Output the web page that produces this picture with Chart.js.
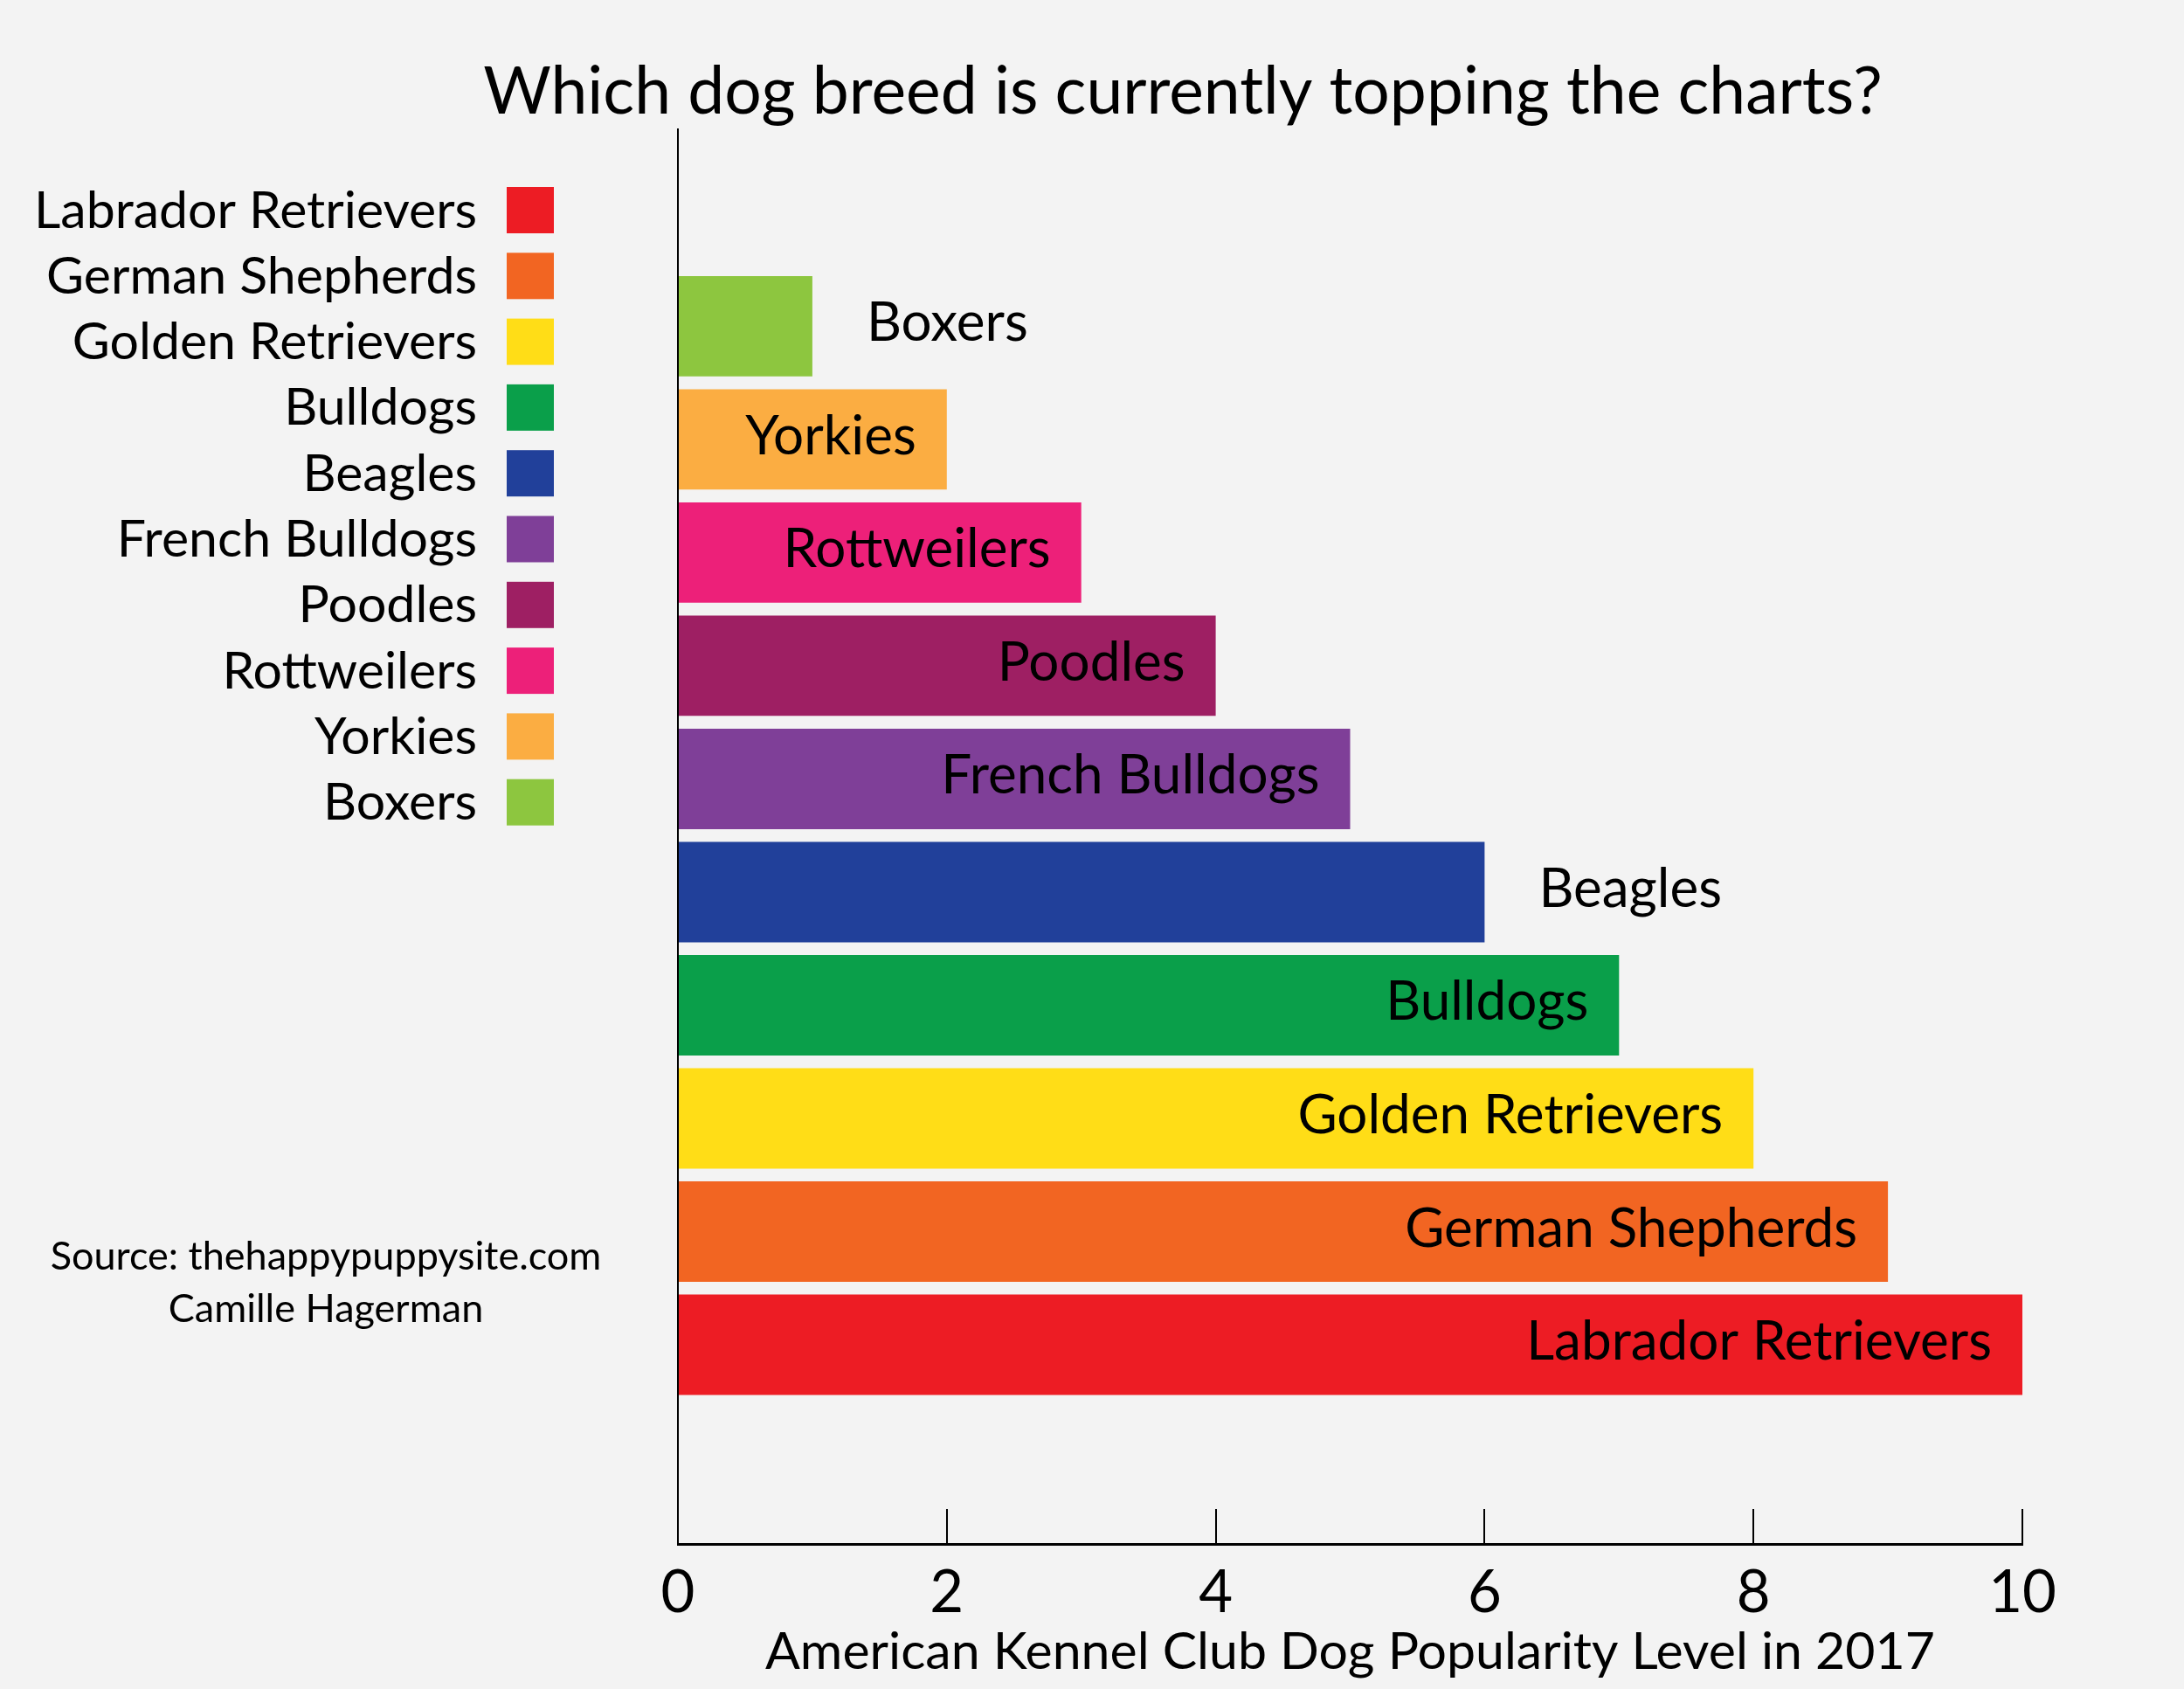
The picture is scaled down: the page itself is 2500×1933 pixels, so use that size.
<!DOCTYPE html>
<html>
<head>
<meta charset="utf-8">
<title>Dog breed popularity</title>
<script src="https://cdn.jsdelivr.net/npm/chart.js@4.4.1/dist/chart.umd.min.js"></script>
<style>
  html, body { margin: 0; padding: 0; background: #f3f3f3; }
  canvas { display: block; }
</style>
</head>
<body>
<canvas id="dogChart" width="2500" height="1933"></canvas>
<script>
// bars from top to bottom
const breeds = ['Boxers', 'Yorkies', 'Rottweilers', 'Poodles', 'French Bulldogs',
                'Beagles', 'Bulldogs', 'Golden Retrievers', 'German Shepherds', 'Labrador Retrievers'];
const levels = [1, 2, 3, 4, 5, 6, 7, 8, 9, 10];
const barColors = ['#8dc63f', '#fbad42', '#ed2079', '#9e1f63', '#7f3f98',
                   '#21409a', '#0a9f4a', '#ffdd17', '#f26522', '#ed1c24'];
const xTicks = [0, 2, 4, 6, 8, 10];
const outsideLabels = ['Boxers', 'Beagles'];

const chartTitle = 'Which dog breed is currently topping the charts?';
const axisTitle = 'American Kennel Club Dog Popularity Level in 2017';
const sourceLines = ['Source: thehappypuppysite.com', 'Camille Hagerman'];

const FONT = 'Lato';

// draws the title, legend, credit and the breed names on the bars
const extrasPlugin = {
    id: 'extras',
    afterDatasetsDraw(chart) {
        const ctx = chart.ctx;
        const meta = chart.getDatasetMeta(0);
        ctx.save();
        ctx.fillStyle = '#000';
        ctx.font = `62px ${FONT}`;
        ctx.textBaseline = 'alphabetic';
        meta.data.forEach((bar, i) => {
            const name = breeds[i];
            const baseline = bar.y + 17;
            if (outsideLabels.includes(name)) {
                ctx.textAlign = 'left';
                ctx.fillText(name, bar.x + 62, baseline);
            } else {
                ctx.textAlign = 'right';
                ctx.fillText(name, bar.x - 35, baseline);
            }
        });
        ctx.restore();
    },
    afterDraw(chart) {
        const ctx = chart.ctx;
        ctx.save();
        ctx.fillStyle = '#000';
        ctx.textBaseline = 'alphabetic';

        // title
        ctx.font = `75px ${FONT}`;
        ctx.textAlign = 'center';
        ctx.fillText(chartTitle, 1354, 130);

        // legend, reversed order of the bars
        ctx.font = `59px ${FONT}`;
        ctx.textAlign = 'right';
        const order = breeds.map((b, i) => i).reverse();
        order.forEach((idx, row) => {
            const top = 214 + row * 75.3;
            ctx.fillStyle = barColors[idx];
            ctx.fillRect(580, top, 54, 53);
            ctx.fillStyle = '#000';
            ctx.fillText(breeds[idx], 546, top + 26.5 + 20);
        });

        // credit
        ctx.font = `45px ${FONT}`;
        ctx.textAlign = 'center';
        sourceLines.forEach((line, i) => {
            ctx.fillText(line, 373, 1453 + i * 60);
        });
        ctx.restore();
    }
};

function drawChart() {
    Chart.defaults.font.family = FONT;
    Chart.defaults.color = '#000';

    const ctx = document.getElementById('dogChart').getContext('2d');
    new Chart(ctx, {
        type: 'bar',
        data: {
            datasets: [{
                label: 'Popularity level',
                data: breeds.map((b, i) => ({ x: levels[i], y: i })),
                backgroundColor: barColors,
                borderWidth: 0,
                categoryPercentage: 0.887,
                barPercentage: 1
            }]
        },
        options: {
            indexAxis: 'y',
            responsive: false,
            animation: false,
            devicePixelRatio: 1,
            layout: { padding: { left: 776, right: 185, top: 148, bottom: 0 } },
            plugins: {
                legend: { display: false },
                title: { display: false },
                tooltip: { enabled: false }
            },
            scales: {
                x: {
                    type: 'linear',
                    position: 'bottom',
                    min: xTicks[0],
                    max: xTicks[xTicks.length - 1],
                    afterBuildTicks: scale => {
                        scale.ticks = xTicks.map(v => ({ value: v }));
                    },
                    ticks: { color: '#000', font: { size: 67 }, padding: 56 },
                    grid: {
                        drawOnChartArea: false,
                        drawTicks: true,
                        tickLength: -40,
                        color: '#000',
                        lineWidth: 2
                    },
                    border: { color: '#000', width: 3 },
                    title: {
                        display: true,
                        text: axisTitle,
                        color: '#000',
                        font: { size: 59 },
                        padding: { top: 0, bottom: 7 }
                    },
                    afterFit: scale => { scale.height = 166; }
                },
                y: {
                    type: 'linear',
                    reverse: true,
                    min: -1.74,
                    max: 10.76,
                    afterBuildTicks: scale => { scale.ticks = []; },
                    ticks: { display: false },
                    grid: { display: false },
                    border: { color: '#000', width: 2 },
                    afterFit: scale => { scale.width = 0; }
                }
            }
        },
        plugins: [extrasPlugin]
    });
}

// wait for the local font before drawing on the canvas
document.fonts.load(`62px ${FONT}`).then(drawChart, drawChart);
</script>
</body>
</html>
